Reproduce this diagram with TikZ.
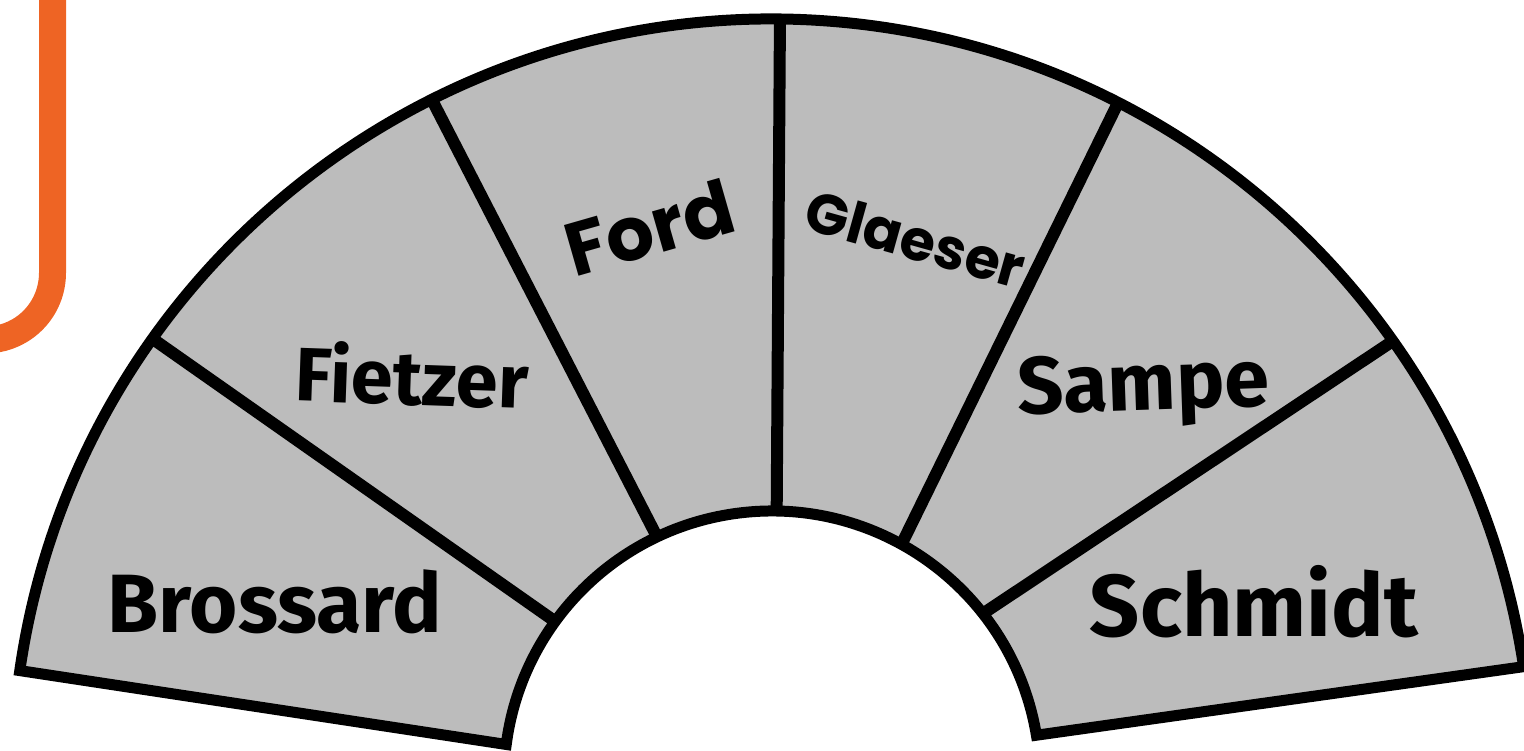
\documentclass[tikz,border=0pt]{standalone}
\usepackage{fontspec}
\usepackage{graphicx}
\usetikzlibrary{calc}
\newfontfamily\popf{Poppins}
\newfontfamily\firaf{Fira Sans}
\definecolor{orangec}{RGB}{238,100,36}
\definecolor{grayc}{RGB}{188,188,188}
\tikzset{
  ring/.style={fill=grayc, draw=black, line width=11pt, line join=miter},
  divider/.style={draw=black, line width=12pt},
  lbl/.style={inner sep=0pt, anchor=base, text=black},
}
\begin{document}
\begin{tikzpicture}[x=1pt,y=1pt]
\useasboundingbox (0,0) rectangle (1524,751);
% orange corner
\draw[orangec, line width=27pt] (52.5,780) -- (52.5,478) arc[start angle=0, end angle=-100, radius=67];
% ring
\coordinate (C) at (772,-28);
\draw[ring] ($(C)+(171.8:760)$) arc[start angle=171.8, end angle=8.5, radius=760]
  -- ($(C)+(9.4:268)$) arc[start angle=9.4, end angle=172.6, radius=268] -- cycle;
% dividers
\coordinate (o1) at ($(C)+(144.6:760)$); \coordinate (i1) at ($(C)+(144.0:268)$);
\coordinate (o2) at ($(C)+(116.6:760)$); \coordinate (i2) at ($(C)+(115.4:268)$);
\coordinate (o3) at ($(C)+(89.4:760)$);  \coordinate (i3) at ($(C)+(89.0:268)$);
\coordinate (o4) at ($(C)+(62.9:760)$);  \coordinate (i4) at ($(C)+(61.1:268)$);
\coordinate (o5) at ($(C)+(35.2:760)$);  \coordinate (i5) at ($(C)+(38.1:268)$);
\foreach \k in {1,...,5} {\draw[divider] (o\k) -- (i\k);}
% labels
\node[lbl] (brossard) at (275,118) {\resizebox{334pt}{!}{\firaf\bfseries Brossard}};
\node[lbl] (schmidt) at (1254,114) {\resizebox{328pt}{!}{\firaf\bfseries Schmidt}};
\node[lbl, rotate=-2] (fietzer) at (411,346) {\resizebox{233pt}{!}{\firaf\bfseries Fietzer}};
\node[lbl, rotate=2] (sampe) at (1144,341) {\resizebox{252pt}{!}{\firaf\bfseries Sampe}};
\node[lbl, rotate=16] (ford) at (657,497) {\resizebox{172pt}{!}{\popf\bfseries Ford}};
\node[lbl, rotate=-15.6] (glaeser) at (910,492) {\resizebox{225pt}{!}{\popf\bfseries Glaeser}};
\end{tikzpicture}
\end{document}
